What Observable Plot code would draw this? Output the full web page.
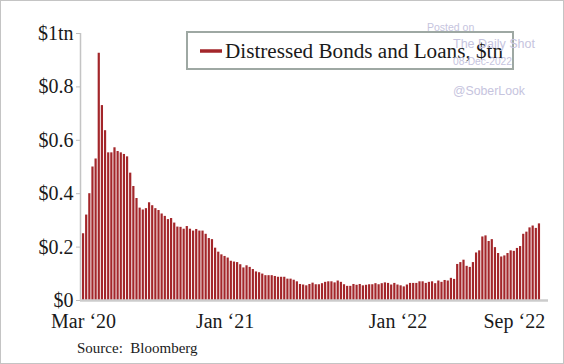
<!DOCTYPE html>
<html>
<head>
<meta charset="utf-8">
<script src="https://cdn.jsdelivr.net/npm/d3@7"></script>
<script src="https://cdn.jsdelivr.net/npm/@observablehq/plot@0.6"></script>
<style>
  html, body { margin: 0; padding: 0; background: #fff; }
  #chart { width: 564px; height: 364px; }
</style>
</head>
<body>
<div id="chart"></div>
<script>
// Weekly distressed bonds and loans, $tn (Mar 2020 – late 2022)
const values = [
  0.25, 0.32, 0.40, 0.50, 0.53, 0.926, 0.73, 0.636, 0.553, 0.553, 0.572, 0.558,
  0.553, 0.547, 0.538, 0.477, 0.427, 0.382, 0.346, 0.339, 0.344, 0.366, 0.355, 0.344,
  0.337, 0.324, 0.315, 0.303, 0.307, 0.29, 0.275, 0.274, 0.267, 0.277, 0.267, 0.26,
  0.266, 0.26, 0.26, 0.248, 0.232, 0.228, 0.196, 0.181, 0.171, 0.165, 0.159, 0.147, 0.144,
  0.142, 0.134, 0.122, 0.13, 0.124, 0.116, 0.107, 0.104, 0.099, 0.093, 0.093, 0.093,
  0.09, 0.087, 0.087, 0.087, 0.08, 0.08, 0.076, 0.07, 0.06, 0.058, 0.055, 0.06, 0.065,
  0.059, 0.059, 0.063, 0.068, 0.07, 0.07, 0.066, 0.073, 0.068, 0.059, 0.053, 0.053,
  0.06, 0.057, 0.06, 0.055, 0.057, 0.059, 0.059, 0.063, 0.059, 0.063, 0.066, 0.064,
  0.058, 0.064, 0.058, 0.055, 0.051, 0.058, 0.064, 0.064, 0.064, 0.07, 0.07, 0.064,
  0.068, 0.07, 0.063, 0.073, 0.068, 0.075, 0.073, 0.083, 0.079,
  0.135, 0.142, 0.151, 0.128, 0.124, 0.142, 0.178, 0.186, 0.238, 0.242, 0.221, 0.228,
  0.198, 0.176, 0.163, 0.167, 0.176, 0.186, 0.184, 0.195, 0.202, 0.248, 0.256, 0.272,
  0.279, 0.27, 0.287
];
const xTickIndex = [0, 45, 100, 137];
const xTickLabels = ["Mar \u201820", "Jan \u201821", "Jan \u201822", "Sep \u201822"];
const yTicks = [0, 0.2, 0.4, 0.6, 0.8, 1];
const yTickLabels = ["$0", "$0.2", "$0.4", "$0.6", "$0.8", "$1tn"];
const seriesName = "Distressed Bonds and Loans, $tn";
const sourceText = "Source:  Bloomberg";
const watermark = ["Posted on", "The Daily Shot", "08-Dec-2022", "@SoberLook"];

const data = values.map((v, i) => ({i, v}));
const RED = "#a3262a";

const chart = Plot.plot({
  width: 564,
  height: 364,
  marginLeft: 81,
  marginRight: 23,
  marginTop: 33,
  marginBottom: 64,
  style: {fontFamily: "'Liberation Serif', serif", fontSize: "20px", background: "#fff", color: "#1a1a1a"},
  x: {type: "band", domain: d3.range(values.length), padding: 0.3, round: false, axis: null},
  y: {domain: [0, 1], axis: null},
  marks: [
    Plot.barY(data, {x: "i", y: "v", fill: RED}),
    Plot.axisY(yTicks, {
      tickFormat: d => yTickLabels[yTicks.indexOf(d)],
      tickSize: 5, tickPadding: 3, stroke: "#bdbdbd", fill: "#1a1a1a", fontSize: 20, label: null
    }),
    Plot.axisX(xTickIndex, {
      tickFormat: d => xTickLabels[xTickIndex.indexOf(d)],
      tickSize: 0, tickPadding: 13, fill: "#1a1a1a", fontSize: 20, label: null
    })
  ]
});

document.getElementById("chart").appendChild(chart);

const svg = d3.select(chart);
// outer border
svg.append("rect").attr("x", 0.5).attr("y", 0.5).attr("width", 563).attr("height", 363)
  .attr("fill", "none").attr("stroke", "#c4c4c4");
// axis lines
svg.append("line").attr("x1", 80.5).attr("x2", 80.5).attr("y1", 33).attr("y2", 300)
  .attr("stroke", "#c4c4c4").attr("stroke-width", 1.5);
svg.append("line").attr("x1", 80).attr("x2", 548).attr("y1", 300.5).attr("y2", 300.5)
  .attr("stroke", "#cccccc").attr("stroke-width", 2.5);

// legend box
const lg = svg.append("g").attr("text-anchor", "start");
lg.append("rect").attr("x", 187).attr("y", 32).attr("width", 326).attr("height", 37)
  .attr("fill", "#fff").attr("stroke", "#9ea8a3").attr("stroke-width", 2);
lg.append("line").attr("x1", 200).attr("x2", 222).attr("y1", 51).attr("y2", 51)
  .attr("stroke", RED).attr("stroke-width", 3.5);
lg.append("text").attr("x", 225).attr("y", 58).attr("font-size", 20.5)
  .attr("textLength", 278).attr("lengthAdjust", "spacingAndGlyphs")
  .attr("fill", "#1a1a1a").text(seriesName);

// watermark
const wm = svg.append("g").attr("text-anchor", "start")
  .attr("font-family", "'Liberation Sans', sans-serif").attr("fill", "#c6c4de");
wm.append("text").attr("x", 427).attr("y", 31).attr("font-size", 10.5).text(watermark[0]);
wm.append("text").attr("x", 453).attr("y", 48).attr("font-size", 12.5).text(watermark[1]);
wm.append("text").attr("x", 453).attr("y", 65).attr("font-size", 10.2).text(watermark[2]);
wm.append("text").attr("x", 453).attr("y", 95).attr("font-size", 12.3).text(watermark[3]);

// source
svg.append("text").attr("text-anchor", "start").attr("x", 77).attr("y", 353).attr("font-size", 15)
  .attr("fill", "#1a1a1a").text(sourceText);
</script>
</body>
</html>
